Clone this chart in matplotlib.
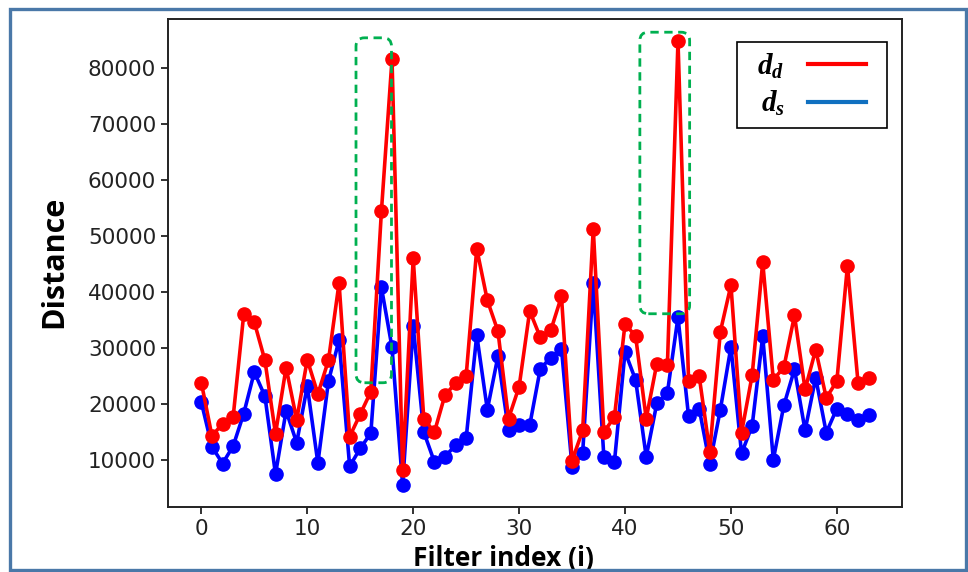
import matplotlib
matplotlib.use("Agg")
import matplotlib.pyplot as plt
from matplotlib.lines import Line2D
from matplotlib.patches import FancyBboxPatch, Rectangle

# values
filter_index = list(range(64))
d_d = [23800, 14300, 16500, 17700, 36000, 34600, 27800, 14700, 26500, 17200,
       27900, 21800, 27800, 41600, 14200, 18200, 22200, 54400, 81500, 8200,
       46000, 17400, 15000, 21600, 23700, 25000, 47700, 38500, 33000, 17400,
       23100, 36600, 31900, 33200, 39200, 9900, 15300, 51300, 15000, 17700,
       34300, 32100, 17400, 27200, 26900, 84700, 24100, 25000, 11500, 32900,
       41200, 14900, 25100, 45300, 24300, 26600, 35800, 22600, 29700, 21100,
       24100, 44700, 23800, 24600]
d_s = [20300, 12400, 9400, 12500, 18300, 25700, 21400, 7500, 18800, 13100,
       23200, 9500, 24100, 31400, 8900, 12100, 14800, 40800, 30100, 5600,
       33900, 15000, 9700, 10600, 12700, 13900, 32300, 19000, 28500, 15300,
       16200, 16200, 26300, 28300, 29900, 8800, 11300, 41500, 10600, 9700,
       29300, 24300, 10600, 20100, 22000, 35500, 17800, 19200, 9300, 19000,
       30200, 11200, 16100, 32100, 10100, 19800, 26200, 15300, 24700, 14900,
       19200, 18300, 17200, 18000]

# highlighted regions (x0, x1, y0, y1)
highlight_boxes = [(14.6, 17.95, 23800, 85300), (41.4, 46.1, 36100, 86300)]

plt.rcParams["mathtext.fontset"] = "custom"
plt.rcParams["mathtext.it"] = "Liberation Serif:italic:bold"
plt.rcParams["mathtext.rm"] = "Liberation Serif:bold"

fig = plt.figure(figsize=(9.68, 5.72), dpi=100)
ax = fig.add_axes([168 / 968, 1 - 507 / 572, 734 / 968, 488 / 572])

ax.plot(filter_index, d_s, color="#0000ff", lw=2.6, marker="o", ms=9.5, zorder=3)
ax.plot(filter_index, d_d, color="#ff0000", lw=2.6, marker="o", ms=9.5, zorder=4)
# keep the limits of the data, not of the highlight boxes
ax.autoscale_view()
ax.set_autoscale_on(False)

for x0, x1, y0, y1 in highlight_boxes:
    ax.add_patch(FancyBboxPatch((x0, y0), x1 - x0, y1 - y0,
                                boxstyle="round,pad=0,rounding_size=0.8",
                                mutation_aspect=1900, fill=False,
                                edgecolor="#00b050", lw=2, ls=(0, (3, 2)),
                                zorder=5))

for s in ax.spines.values():
    s.set_linewidth(1.4)
    s.set_color("#222222")
ax.tick_params(labelsize=15.5, length=5, width=1.3, colors="#222222")
ax.ticklabel_format(style="plain", axis="y")

# legend: own box, content centred inside it
ax.add_patch(Rectangle((0.775, 0.777), 0.204, 0.1765, transform=ax.transAxes,
                       facecolor="white", edgecolor="black", lw=1.2, zorder=6))
handles = [Line2D([], [], color="#ff0000", lw=3),
           Line2D([], [], color="#1070c0", lw=3)]
leg = ax.legend(handles, [r"$d_d$", r"$d_s$"], markerfirst=False,
                loc="center", bbox_to_anchor=(0.877, 0.865),
                frameon=False, fontsize=21, handlelength=2.0,
                handletextpad=0.8, labelspacing=0.3, borderpad=0)
leg.set_zorder(7)

fig.text(54 / 968, 1 - 262 / 572, "Distance", rotation=90, ha="center",
         va="center", fontsize=22, fontweight="bold", family="Open Sans")
fig.text(503 / 968, 1 - 566 / 572, "Filter index (i)", ha="center",
         va="baseline", fontsize=19, fontweight="bold", family="Open Sans")

# outer frame around the figure
fig.patches.append(Rectangle((9.5 / 968, 2 / 572), 956 / 968, 561 / 572,
                             transform=fig.transFigure, fill=False,
                             edgecolor="#4a78a8", lw=2.4, zorder=10))

fig.savefig("out.png", dpi=100)
